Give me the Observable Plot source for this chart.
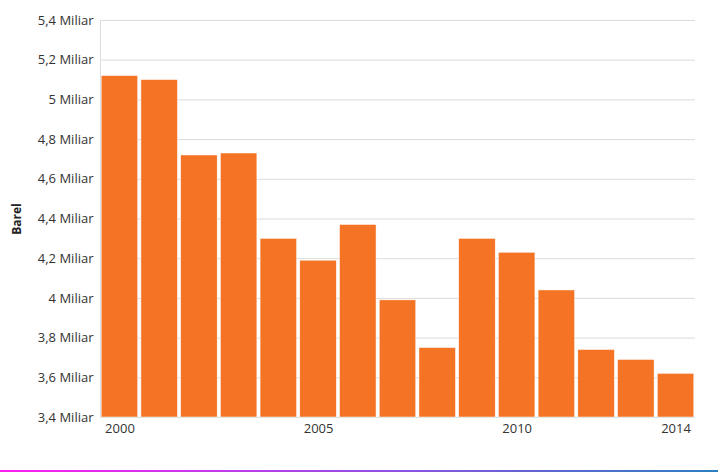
<!DOCTYPE html>
<html>
<head>
<meta charset="utf-8">
<script src="https://cdn.jsdelivr.net/npm/d3@7"></script>
<script src="https://cdn.jsdelivr.net/npm/@observablehq/plot@0.6"></script>
<style>
  html, body { margin: 0; padding: 0; background: #fff; }
  #chart svg { display: block; }
  .bottom-line { width: 718px; height: 2px; margin-top: 4px; background: linear-gradient(to right, #ff1ef0, #9a4ce6 50%, #2a7fc0); }
</style>
</head>
<body>
<div id="chart"></div>
<div class="bottom-line"></div>
<script>
const years = [2000, 2001, 2002, 2003, 2004, 2005, 2006, 2007, 2008, 2009, 2010, 2011, 2012, 2013, 2014];
const barrels = [5.12, 5.10, 4.72, 4.73, 4.30, 4.19, 4.37, 3.99, 3.75, 4.30, 4.23, 4.04, 3.74, 3.69, 3.62];
const xTicks = [2000, 2005, 2010, 2014];
const yTicks = [3.4, 3.6, 3.8, 4.0, 4.2, 4.4, 4.6, 4.8, 5.0, 5.2, 5.4];
const yLabel = "Barel";
const unit = "Miliar";

const data = years.map((y, i) => ({year: y, value: barrels[i]}));
const fmt = v => (Math.round(v * 10) / 10).toString().replace(".", ",") + " " + unit;

const chart = Plot.plot({
  width: 720,
  height: 466,
  marginTop: 20,
  marginBottom: 49,
  marginLeft: 100,
  marginRight: 25,
  style: {fontFamily: "'Open Sans', 'Noto Sans', sans-serif", fontSize: "13px", color: "#333", background: "#fff"},
  x: {type: "band", domain: years, paddingInner: 0.08, paddingOuter: 0.03, round: false, label: null},
  y: {domain: [3.4, 5.4], label: null},
  marks: [
    Plot.gridY(yTicks, {stroke: "#dcdcdc", strokeOpacity: 1}),
    Plot.barY(data, {x: "year", y1: () => 3.4, y2: "value", fill: "#f47324", stroke: "#fff", strokeWidth: 0.5}),
    Plot.axisY(yTicks, {tickSize: 0, tickPadding: 7, tickFormat: fmt, fill: "#333", fontSize: 13,
      label: yLabel, labelAnchor: "center", labelOffset: 88, labelArrow: "none"}),
    Plot.axisX(xTicks, {tickSize: 0, tickPadding: 6, fill: "#333", fontSize: 13, tickFormat: d => String(d), label: null})
  ]
});

// y-axis line at left edge of plotting area
const svg = d3.select(chart);
svg.append("line").attr("x1", 100.5).attr("x2", 100.5).attr("y1", 20).attr("y2", 417).attr("stroke", "#dcdcdc");
svg.selectAll("[aria-label='y-axis label'] text, [aria-label='y-axis label']").attr("font-weight", "bold").style("font-size", "12px").style("fill", "#222");
document.getElementById("chart").appendChild(chart);
</script>
</body>
</html>
